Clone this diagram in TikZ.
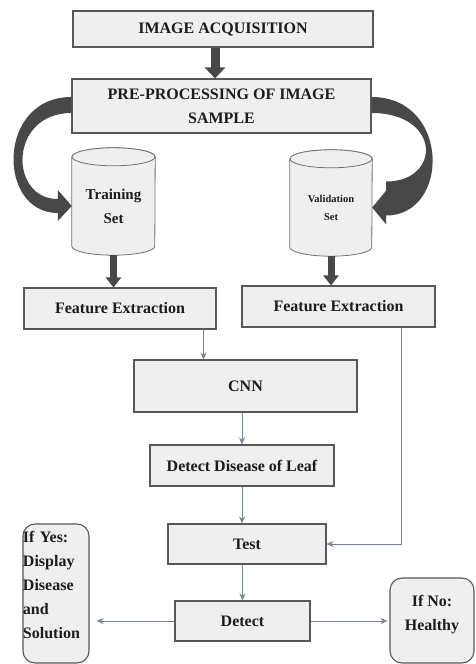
\documentclass[tikz,border=0pt]{standalone}
\usepackage{fontspec}
\setmainfont{Liberation Serif}
\usetikzlibrary{arrows.meta,calc,backgrounds}
\definecolor{boxfill}{RGB}{239,239,239}
\definecolor{boxedge}{RGB}{88,88,88}
\definecolor{cyledge}{RGB}{112,112,112}
\definecolor{bigarr}{RGB}{72,72,72}
\definecolor{linkcol}{RGB}{118,130,152}
\definecolor{txtdark}{RGB}{28,28,28}
\newcommand{\drum}[3]{%
  \filldraw[cyl] (#1.north west) -- ($(#1.south west)+(0,#3)$)
    arc[start angle=180,end angle=360,x radius=#2,y radius=#3]
    -- (#1.north east) arc[start angle=0,end angle=180,x radius=#2,y radius=#3] -- cycle;
  \draw[cyl] (#1.north) ellipse[x radius=#2,y radius=#3];}

\begin{document}
\begin{tikzpicture}[x=1pt,y=1pt,
    stage/.style={draw=boxedge, line width=1.1pt, fill=boxfill, font=\fontsize{16}{24}\selectfont\bfseries, text=txtdark, align=center, inner sep=0pt},
    drumbox/.style={inner sep=0pt, text=txtdark, align=center},
    cyl/.style={draw=cyledge, fill=boxfill, line width=0.8pt},
    outcome/.style={draw=boxedge, line width=1.1pt, fill=boxfill, rounded corners=12pt, font=\fontsize{16}{24}\selectfont\bfseries, text=txtdark, inner sep=0pt},
    bigarrow/.style={draw=bigarr, line width=9pt, -{Triangle[width=20pt,length=11pt]}},
    midarrow/.style={draw=bigarr, line width=7pt, -{Triangle[width=15pt,length=10pt]}},
    link/.style={draw=linkcol, line width=1pt, -{Stealth[length=7pt,width=6pt]}}]
    \useasboundingbox (0,0) rectangle (476,-664);
    \node[stage, minimum width=300pt, minimum height=36pt] (acq) at (223,-29) {IMAGE ACQUISITION};
    \node[stage, minimum width=299pt, minimum height=54pt] (pre) at (221.5,-106) {PRE-PROCESSING OF IMAGE\\SAMPLE};
    \node[drumbox, font=\fontsize{15}{24}\selectfont\bfseries, minimum width=83pt, minimum height=98pt] (train) at (113.5,-206) {Training\\Set};
    \node[drumbox, font=\fontsize{10.5}{18}\selectfont\bfseries, minimum width=82pt, minimum height=97pt] (valid) at (331,-207.5) {Validation\\Set};
    \begin{scope}[on background layer]
      \drum{train}{41.5}{9}
      \drum{valid}{41}{9}
    \end{scope}
    \node[stage, minimum width=192pt, minimum height=41pt] (fe1) at (120,-308.5) {Feature Extraction};
    \node[stage, minimum width=193pt, minimum height=41pt] (fe2) at (338.5,-306.5) {Feature Extraction};
    \node[stage, minimum width=223pt, minimum height=52pt] (cnn) at (245.5,-386) {CNN};
    \node[stage, minimum width=184pt, minimum height=41pt] (dd) at (242,-465.5) {Detect Disease of Leaf};
    \node[stage, minimum width=158pt, minimum height=40pt] (test) at (247,-544) {Test};
    \node[stage, minimum width=135pt, minimum height=40pt] (detect) at (242.5,-621) {Detect};
    \node[outcome, align=left, text width=66pt, minimum height=139pt] (yes) at (56,-593.5) {If Yes:\\Display\\Disease\\and\\Solution\\[-7pt]\mbox{}};
    \node[outcome, align=center, minimum width=84pt, minimum height=85pt] (no) at (432,-620.5) {If No:\\Healthy\\[-9pt]\mbox{}};

    \draw[bigarrow] ([xshift=-8pt]acq.south) -- ([xshift=-8pt]acq.south |- pre.north);
    \fill[bigarr] ($(pre.west)+(0,9)$) .. controls +(-75,0) and +(-61,0) .. ($(train.west)+(-14,-7)$)
      -- ++(0,-8) -- (train.west) -- ++(-14,16) -- ++(0,-9)
      .. controls +(-49,0) and +(-63,0) .. ($(pre.west)+(0,-7)$) -- cycle;
    \fill[bigarr] ($(pre.east)+(0,9)$) .. controls +(79,0) and +(64,0) .. ($(valid.east)+(14,-8)$)
      -- ++(0,-9) -- (valid.east) -- ++(14,17) -- ++(0,9)
      .. controls +(55,0) and +(70,0) .. ($(pre.east)+(0,-7)$) -- cycle;
    \draw[midarrow] (train.south) -- (train.south |- fe1.north);
    \draw[midarrow] (valid.south) -- (valid.south |- fe2.north);
    \coordinate (f1) at ($(fe1.south east)+(-13,0)$);
    \coordinate (f2) at ($(fe2.south east)+(-34,0)$);
    \draw[link] (f1) -- (f1 |- cnn.north);
    \draw[link] (f2) |- (test.east);
    \draw[link] (cnn.south -| dd.north) -- (dd.north);
    \draw[link] (dd.south) -- (dd.south |- test.north);
    \draw[link] (detect.north |- test.south) -- (detect.north);
    \draw[link, shorten >=7pt] (detect.west) -- (detect.west -| yes.east);
    \draw[link, shorten >=2pt] (detect.east) -- (detect.east -| no.west);
\end{tikzpicture}
\end{document}
